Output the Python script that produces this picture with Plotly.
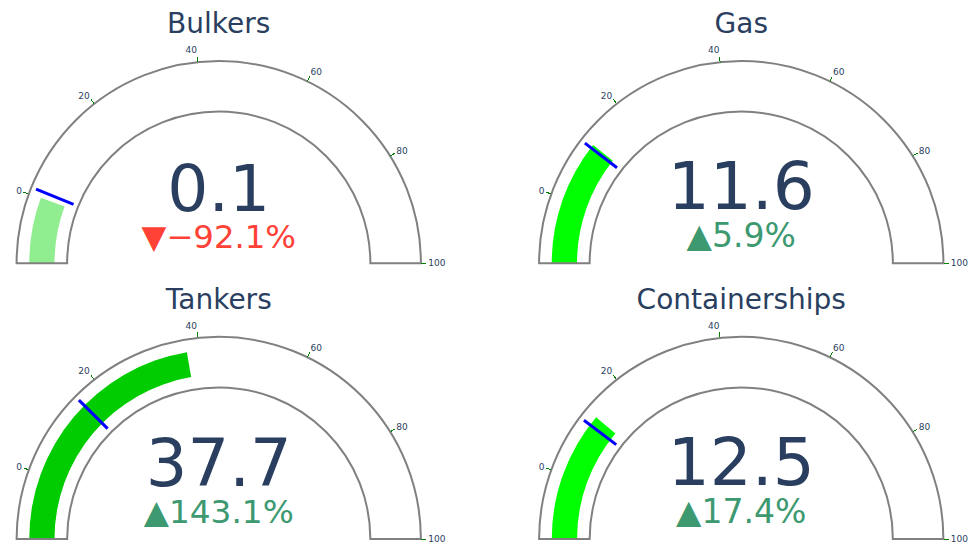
import plotly.graph_objects as go

segments = ["Bulkers", "Gas", "Tankers", "Containerships"]
values = [0.1, 11.6, 37.7, 12.5]
references = [1.27, 10.95, 15.51, 10.65]
bar_colors = ["#90EE90", "#00FF00", "#00CC00", "#00FF00"]
axis_range = [-12.5, 100]
rows = [0, 0, 1, 1]
cols = [0, 1, 0, 1]

x_domains = [[0, 0.45], [0.55, 1]]
y_domains = [[0.5771, 1], [0, 0.4229]]

fig = go.Figure()
for name, val, ref, col, r, c in zip(segments, values, references, bar_colors, rows, cols):
    fig.add_trace(go.Indicator(
        mode="gauge+number+delta",
        value=val,
        title={"text": name, "font": {"size": 28}},
        delta={"reference": ref, "relative": True, "valueformat": ".1%"},
        gauge={
            "axis": {"range": axis_range, "tickcolor": "green", "tickwidth": 1,
                     "tickfont": {"size": 9}},
            "bar": {"color": col, "thickness": 0.5},
            "bgcolor": "white",
            "bordercolor": "gray",
            "borderwidth": 2,
            "threshold": {"line": {"color": "blue", "width": 3}, "thickness": 0.8, "value": ref},
        },
        domain={"x": x_domains[c], "y": y_domains[r]},
    ))

fig.update_layout(
    width=978,
    height=543,
    font=dict(family="DejaVu Sans"),
    margin=dict(l=5, r=23, t=61, b=4),
    paper_bgcolor="white",
)
js = "document.body.style.margin = '0';"
fig.write_html("out.html", post_script=js, config={"displayModeBar": False})
